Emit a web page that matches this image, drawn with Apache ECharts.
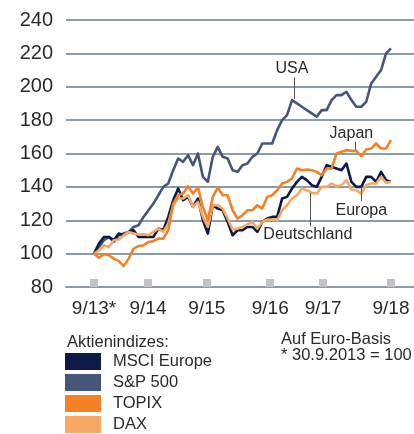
<!DOCTYPE html>
<html><head><meta charset="utf-8">
<script src="https://cdn.jsdelivr.net/npm/echarts@6/dist/echarts.min.js"></script>
<style>html,body{margin:0;padding:0;background:#fff}#c{width:414px;height:434px}</style>
</head><body><div id="c"></div>
<script>
// Month index since 30.9.2013 (0 = 9/13 ... 60 = 9/18)
const tickPositions = [0, 10.9, 22.8, 35.6, 46.3, 60];
const tickLabels = ['9/13*', '9/14', '9/15', '9/16', '9/17', '9/18'];
const yTicks = [80, 100, 120, 140, 160, 180, 200, 220, 240];

const seriesNames = ['MSCI Europe', 'S&P 500', 'TOPIX', 'DAX'];

const msciEurope = [100,106,110,110,108,112,111,113,114,110,
  110,110,110,115,114,122,132,139,132,134,
  128,133,120,112,129,127,126,119,111,114,
  114,116,116,113,119,121,122,122,133,134,
  139,143,146,144,141,140,146,153,152,151,
  150,154,143,140,140,146,146,143,149,144,143];

const sp500 = [100,104,108,110,107,111,112,113,116,117,
  122,126,130,135,140,142,150,157,155,159,
  153,160,146,143,158,164,158,157,150,149,
  153,154,158,160,166,166,166,174,180,183,
  192,190,188,186,184,182,186,186,192,195,
  195,197,192,188,188,191,202,206,210,220,223];

const topix = [100,97.6,99.6,99,97,95.5,92.5,97,103,104.5,
  105,107,107.5,109,109,114,130,135,136,140.4,
  136,139.6,128,120,134,139.6,135,135,126,121,
  123,126,126,129,127,134,135,138,142,143,
  145,151,150,150.4,150,149,147,151,151,160,
  161,162,161.6,161.6,158.4,162.4,163,166,163,163,168];

const dax = [100,102,105,104,108,108.5,111,113,112,111.5,
  111.6,111,113,115,113,118,129,133,133,135,
  128,131,122,116,129,129,127,121,114.5,115,
  116,117.5,119,115,119,120.4,120.4,120,126,129,
  133,135,139,138,136.5,136,140,140,142,140.4,
  141,144,138.4,138,136,141,142,142,146,142.4,143];

const colors = {
  'MSCI Europe': '#0b1a48',
  'S&P 500': '#48557a',
  'TOPIX': '#f28224',
  'DAX': '#f6a864'
};

function pairs(arr) { return arr.map((v, i) => [i, v]); }

// annotation labels: text, label position [x, y], leader line x and y range
const annotations = [
  { text: 'USA', pos: [40.0, 211], lx: 40.4, ly: [205.5, 192.6] },
  { text: 'Japan', pos: [52.0, 172], lx: 52.7, ly: [167, 161.6] },
  { text: 'Europa', pos: [54.0, 125.7], lx: 53.9, ly: [140, 131.6] },
  { text: 'Deutschland', pos: [43.2, 111.6], lx: 43.6, ly: [136.4, 116.4] }
];

const font = '"Liberation Sans", Arial, sans-serif';
const chart = echarts.init(document.getElementById('c'), null, { renderer: 'canvas' });

function lineSeries(name, data, z) {
  return {
    name: name, type: 'line', data: pairs(data), showSymbol: false, symbol: 'none',
    z: z, animation: false,
    lineStyle: { color: colors[name], width: 2.6, join: 'round' },
    itemStyle: { color: colors[name] }
  };
}

const sp = lineSeries('S&P 500', sp500, 2);
sp.markLine = {
  silent: true, symbol: 'none', animation: false,
  lineStyle: { color: '#555', width: 1, type: 'solid' },
  label: { show: false },
  data: annotations.map(a => [{ coord: [a.lx, a.ly[0]] }, { coord: [a.lx, a.ly[1]] }])
};
sp.markPoint = {
  silent: true, animation: false, symbol: 'rect', symbolSize: 1,
  itemStyle: { color: 'rgba(0,0,0,0)' },
  label: { show: true, position: 'inside', color: '#2a2a2a', fontSize: 16, fontFamily: font },
  data: annotations.map(a => ({ coord: a.pos, value: a.text, label: { formatter: a.text } }))
};

const option = {
  animation: false,
  backgroundColor: '#fff',
  grid: { left: 66, right: 0, top: 20, bottom: 147, containLabel: false },
  xAxis: {
    type: 'value', min: -5.66, max: 64.65,
    axisLine: { show: true, lineStyle: { color: '#8b9bab', width: 2 } },
    axisTick: { show: true, inside: true, length: 8, customValues: tickPositions,
      lineStyle: { color: '#c3c3c3', width: 8 } },
    axisLabel: { customValues: tickPositions, margin: 12, color: '#2a2a2a', fontSize: 19, fontFamily: font,
      formatter: function (v) { const k = tickPositions.findIndex(t => Math.abs(t - v) < 1e-6); return k >= 0 ? tickLabels[k] : ''; } },
    splitLine: { show: false }
  },
  yAxis: {
    type: 'value', min: yTicks[0], max: yTicks[yTicks.length - 1], interval: 20,
    axisLine: { show: false }, axisTick: { show: false },
    axisLabel: { margin: 13, color: '#2a2a2a', fontSize: 20, fontFamily: font },
    splitLine: { show: true, lineStyle: { color: '#8b9bab', width: 2 } }
  },
  legend: {
    orient: 'vertical', left: 65, top: 353, height: 140, padding: 0,
    itemWidth: 36, itemHeight: 17, itemGap: 4,
    icon: 'rect', selectedMode: false,
    textStyle: { fontSize: 16.5, lineHeight: 17, color: '#2a2a2a', fontFamily: font, padding: [0, 0, 0, 7] },
    data: seriesNames
  },
  graphic: [
    { type: 'text', left: 67, top: 334, style: { text: 'Aktienindizes:', fontSize: 16.5, fontFamily: font, fill: '#2a2a2a' } },
    { type: 'text', left: 281, top: 331, style: { text: 'Auf Euro-Basis', fontSize: 16.5, fontFamily: font, fill: '#2a2a2a' } },
    { type: 'text', left: 281, top: 347, style: { text: '* 30.9.2013 = 100', fontSize: 16.5, fontFamily: font, fill: '#2a2a2a' } }
  ],
  series: [
    sp,
    lineSeries('MSCI Europe', msciEurope, 3),
    lineSeries('DAX', dax, 4),
    lineSeries('TOPIX', topix, 5)
  ]
};
chart.setOption(option);
</script>
</body></html>
